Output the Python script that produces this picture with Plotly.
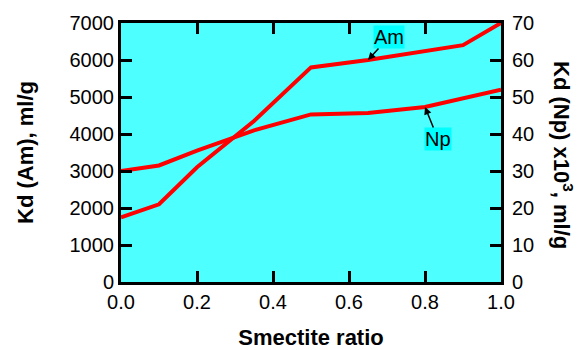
import plotly.graph_objects as go

# Smectite ratio (x) and distribution coefficients
smectite_ratio = [0.0, 0.1, 0.2, 0.35, 0.5, 0.65, 0.9, 1.0]
kd_am = [1750, 2100, 3100, 4350, 5800, 6000, 6400, 7000]          # ml/g

np_ratio = [0.0, 0.1, 0.2, 0.35, 0.5, 0.65, 0.8, 1.0]
kd_np = [30.0, 31.5, 35.5, 41.0, 45.3, 45.7, 47.3, 52.0]           # x10^3 ml/g

x_ticks = [0.0, 0.2, 0.4, 0.6, 0.8, 1.0]
x_tick_text = ["0.0", "0.2", "0.4", "0.6", "0.8", "1.0"]

FONT = "Liberation Sans, Arial, sans-serif"
RED = "#ff0000"

fig = go.Figure()
fig.add_trace(go.Scatter(x=smectite_ratio, y=kd_am, mode="lines",
                         line=dict(color=RED, width=4), yaxis="y", showlegend=False))
fig.add_trace(go.Scatter(x=np_ratio, y=kd_np, mode="lines",
                         line=dict(color=RED, width=4), yaxis="y2", showlegend=False))

axis_common = dict(showline=True, linecolor="black", linewidth=3, ticks="inside",
                   ticklen=11, tickwidth=3, tickcolor="black", showgrid=False,
                   zeroline=False, automargin=False,
                   tickfont=dict(family=FONT, size=20, color="black"))

# Plot area in pixels
ML, MR, MT, MB = 121, 83, 23, 68
plot_w = 584 - ML - MR
plot_h = 350 - MT - MB

fig.update_layout(
    width=584, height=350,
    margin=dict(l=ML, r=MR, t=MT, b=MB),
    paper_bgcolor="white",
    plot_bgcolor="#4dffff",
    xaxis=dict(range=[0, 1], tickvals=x_ticks, ticktext=x_tick_text, mirror="ticks",
               title=dict(text="<b>Smectite ratio</b>", font=dict(family=FONT, size=22, color="black"),
                          standoff=24),
               **axis_common),
    yaxis=dict(range=[0, 7000], dtick=1000, side="left",
               title=dict(text="<b>Kd (Am), ml/g</b>", font=dict(family=FONT, size=22, color="black"),
                          standoff=30),
               **axis_common),
    yaxis2=dict(range=[0, 70], dtick=10, side="right", overlaying="y", anchor="x",
                ticklabelstandoff=4, **axis_common),
    annotations=[
        dict(x=0.65, y=6000, xref="x", yref="y", text="Am", showarrow=True,
             ax=21, ay=-23, arrowhead=2, arrowsize=1, arrowwidth=1.5, arrowcolor="black",
             bgcolor="#00ffff", borderpad=0, font=dict(family=FONT, size=20, color="black")),
        dict(x=0.8, y=47.3, xref="x", yref="y2", text="Np", showarrow=True,
             ax=13, ay=32, arrowhead=2, arrowsize=1, arrowwidth=1.5, arrowcolor="black",
             bgcolor="#00ffff", borderpad=0, font=dict(family=FONT, size=20, color="black")),
        dict(x=(563 - ML) / plot_w, y=(350 - MB - 155) / plot_h, xref="paper", yref="paper",
             xanchor="center", yanchor="middle",
             text="<b>Kd (Np) x10<sup>3</sup>, ml/g</b>",
             showarrow=False, textangle=90, font=dict(family=FONT, size=22, color="black")),
    ],
)

fig.write_html("out.html")
